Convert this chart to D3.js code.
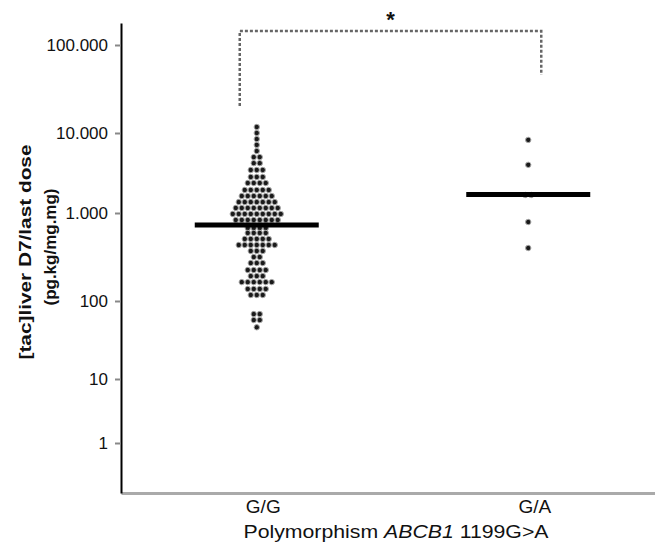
<!DOCTYPE html>
<html>
<head>
<meta charset="utf-8">
<script src="https://cdn.jsdelivr.net/npm/d3@7"></script>
<style>
  body { margin: 0; background: #fff; }
  text { font-family: "Liberation Sans", Arial, sans-serif; fill: #111; }
</style>
</head>
<body>
<div id="canvas"></div>
<script>
const width = 655;
const height = 553;

// genotype groups
const categories = ['G/G', 'G/A'];

// G/G: each row of the scatter and how many dots sit on it
const ggLevels = [11700, 10000, 8400, 7100, 5950, 5000, 4200, 3450, 2820, 2370,
  1940, 1630, 1370, 1155, 975, 833,
  676, 593, 507, 433, 370, 316, 270, 225, 192, 164,
  137, 117, 68, 57, 46];
const ggCounts = [1, 1, 1, 1, 1, 2, 2, 3, 3, 4,
  5, 6, 7, 8, 9, 8,
  4, 4, 5, 7, 3, 2, 3, 4, 3, 6,
  4, 3, 2, 2, 1];

// G/A
const gaLevels = [8200, 4000, 1680, 790, 400];
const gaCounts = [1, 1, 2, 1, 1];

// horizontal bar per group
const centralValues = [730, 1700];

// significance bracket: top, left leg end, right leg end (data values)
const bracketValues = [144000, 20300, 45600];

const yTickValues = [1, 10, 100, 1000, 10000, 100000];
const yTickLabels = ['1', '10', '100', '1.000', '10.000', '100.000'];

const svg = d3.select('#canvas').append('svg')
  .attr('width', width)
  .attr('height', height)

// log axis, piecewise so the decades land where the original put them
const yScale = d3.scaleLog()
  .domain([0.166, 1, 10, 100, 1000, 10000, 100000, 178000])
  .range([493, 443, 379, 301, 213, 133, 45, 23]);

const xScale = d3.scalePoint()
  .domain(categories)
  .range([121, 664])
  .padding(0.5);

// dots
const groups = [
  {cat: 'G/G', levels: ggLevels, counts: ggCounts},
  {cat: 'G/A', levels: gaLevels, counts: gaCounts}
];
const dots = [];
const gap = 6;
groups.forEach(g => {
  g.levels.forEach((v, i) => {
    const n = g.counts[i];
    for (let k = 0; k < n; k++) {
      dots.push({cat: g.cat, value: v, off: (k - (n - 1) / 2) * gap});
    }
  });
});

svg.append('g').selectAll('circle')
  .data(dots)
  .join('circle')
  .attr('cx', d => xScale(d.cat) + d.off)
  .attr('cy', d => yScale(d.value))
  .attr('r', 2.7)
  .attr('fill', '#1a1a1a')
  .attr('stroke', '#aaa')
  .attr('stroke-width', 1);

// central bars
svg.append('g').selectAll('line')
  .data(categories)
  .join('line')
  .attr('x1', d => xScale(d) - 62)
  .attr('x2', d => xScale(d) + 62)
  .attr('y1', (d, i) => yScale(centralValues[i]))
  .attr('y2', (d, i) => yScale(centralValues[i]))
  .attr('stroke', '#000')
  .attr('stroke-width', 5);

// bracket
const bx1 = xScale('G/G') - 17;
const bx2 = xScale('G/A') + 13;
const bTop = yScale(bracketValues[0]);
svg.append('path')
  .attr('d', `M${bx1},${yScale(bracketValues[1])}V${bTop}H${bx2}V${yScale(bracketValues[2])}`)
  .attr('fill', 'none')
  .attr('stroke', '#666')
  .attr('stroke-width', 2.5)
  .attr('stroke-dasharray', '3,2');

svg.append('text')
  .attr('x', (bx1 + bx2) / 2)
  .attr('y', bTop - 4)
  .attr('text-anchor', 'middle')
  .attr('font-size', 22)
  .attr('font-weight', 'bold')
  .text('*');

// axes
const yAxis = d3.axisLeft(yScale)
  .tickValues(yTickValues)
  .tickFormat((d, i) => yTickLabels[i])
  .tickSize(6)
  .tickSizeOuter(0)
  .tickPadding(7);

const yg = svg.append('g')
  .attr('transform', 'translate(121,0)')
  .call(yAxis);
yg.select('.domain').attr('stroke', '#000').attr('stroke-width', 2);
yg.selectAll('.tick line').attr('stroke', '#888').attr('stroke-width', 2);
yg.selectAll('.tick text').attr('font-size', 17).attr('fill', '#000');

const xAxis = d3.axisBottom(xScale)
  .tickSize(0)
  .tickSizeOuter(0)
  .tickPadding(7);

const xg = svg.append('g')
  .attr('transform', 'translate(0,493)')
  .call(xAxis);
xg.select('.domain').attr('stroke', '#aaa').attr('stroke-width', 3);
xg.selectAll('.tick text').attr('font-size', 19).attr('dx', 6).attr('fill', '#000');
yg.raise();

// axis titles
const xt = svg.append('text')
  .attr('x', 396)
  .attr('y', 538)
  .attr('text-anchor', 'middle')
  .attr('font-size', 18)
  .attr('textLength', 305)
  .attr('lengthAdjust', 'spacingAndGlyphs');
xt.append('tspan').text('Polymorphism ');
xt.append('tspan').attr('font-style', 'italic').text('ABCB1');
xt.append('tspan').text(' 1199G>A');

svg.append('text')
  .attr('transform', 'translate(25,252) rotate(-90)')
  .attr('text-anchor', 'middle')
  .attr('dominant-baseline', 'central')
  .attr('font-size', 17)
  .attr('font-weight', 'bold')
  .attr('textLength', 215)
  .attr('lengthAdjust', 'spacingAndGlyphs')
  .text('[tac]liver D7/last dose');

svg.append('text')
  .attr('transform', 'translate(50,247) rotate(-90)')
  .attr('text-anchor', 'middle')
  .attr('dominant-baseline', 'central')
  .attr('font-size', 17)
  .attr('font-weight', 'bold')
  .attr('textLength', 117)
  .attr('lengthAdjust', 'spacingAndGlyphs')
  .text('(pg.kg/mg.mg)');
</script>
</body>
</html>
